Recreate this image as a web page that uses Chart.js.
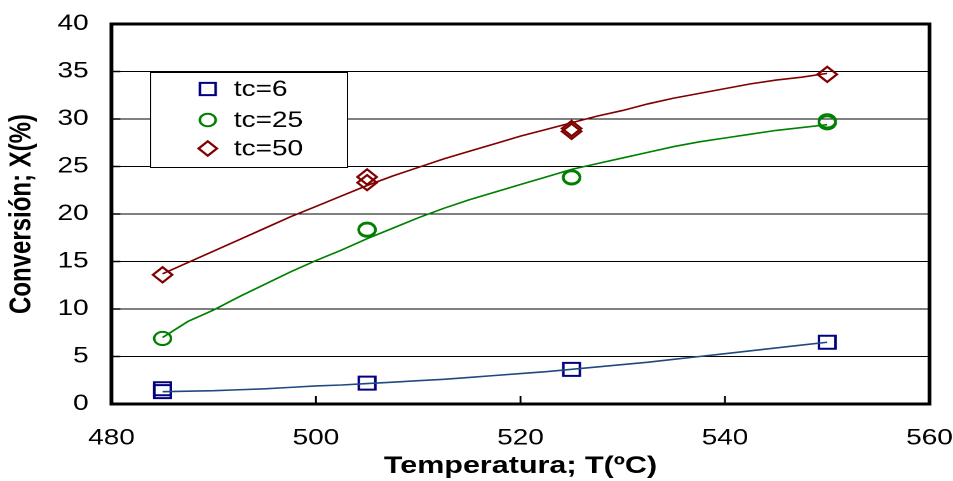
<!DOCTYPE html>
<html><head><meta charset="utf-8">
<script src="https://cdn.jsdelivr.net/npm/chart.js@4/dist/chart.umd.min.js"></script>
<style>
html,body{margin:0;padding:0;background:#fff;overflow:hidden;}
#wrap{width:750px;height:481px;transform:scaleX(1.270667);transform-origin:0 0;}
</style></head><body>
<div id="wrap"><canvas id="c" width="750" height="481"></canvas></div>
<script>
// ---- data ----
const curveTemps = [485,487.5,490,492.5,495,497.5,500,502.5,505,507.5,510,512.5,515,517.5,520,522.5,525,527.5,530,532.5,535,537.5,540,542.5,545,547.5,550];
const curveTc6  = [1.3,1.35,1.4,1.5,1.6,1.75,1.9,2.0,2.15,2.3,2.45,2.6,2.8,3.0,3.2,3.4,3.65,3.9,4.15,4.4,4.7,5.0,5.3,5.6,5.9,6.2,6.5];
const curveTc25 = [7.0,8.7,9.9,11.3,12.6,13.9,15.1,16.2,17.4,18.5,19.6,20.6,21.5,22.3,23.1,23.9,24.7,25.3,25.9,26.5,27.1,27.6,28.0,28.4,28.8,29.1,29.4];
const curveTc50 = [13.7,14.9,16.1,17.3,18.5,19.7,20.8,21.9,23.0,24.0,24.9,25.8,26.6,27.4,28.2,28.9,29.6,30.3,30.9,31.6,32.2,32.7,33.2,33.7,34.1,34.4,34.8];
const expTempsTc6  = [485,485,505,525,550];
const expTc6       = [1.6,1.3,2.2,3.65,6.5];
const expTempsTc25 = [485,505,505,525,525,550,550];
const expTc25      = [6.9,18.3,18.4,23.8,23.9,29.6,29.8];
const expTempsTc50 = [485,505,505,525,525,550];
const expTc50      = [13.6,23.9,23.3,29.0,28.7,34.7];
const seriesLabels = ['tc=6','tc=25','tc=50'];
const xTickValues = [480,500,520,540,560];
const yTickValues = [0,5,10,15,20,25,30,35,40];
const xTitle = 'Temperatura; T(ºC)';
const yTitle = 'Conversión; X(%)';

// ---- styles ----
const FONT = '"Liberation Sans", Arial, sans-serif';
const markerColors = ['#000080','#008000','#800000'];
const lineColors = ['#1F4A80','#008000','#800000'];
const markerStyles = [
  {pointStyle:'rect', radius:9.2},
  {pointStyle:'circle', radius:6.6},
  {pointStyle:'rectRot', radius:7.6}
];

const pts = (xs, ys) => xs.map((x,i)=>({x:x, y:ys[i]}));
const curves = [curveTc6, curveTc25, curveTc50];
const expX = [expTempsTc6, expTempsTc25, expTempsTc50];
const expY = [expTc6, expTc25, expTc50];

const datasets = [];
curves.forEach((c,i)=>datasets.push({
  label: seriesLabels[i]+' modelo',
  data: pts(curveTemps, c),
  showLine: true, borderColor: lineColors[i], borderWidth: 1.6,
  pointRadius: 0, fill: false, tension: 0
}));
expY.forEach((ys,i)=>datasets.push({
  label: seriesLabels[i],
  data: pts(expX[i], ys),
  showLine: false,
  pointStyle: markerStyles[i].pointStyle,
  pointRadius: markerStyles[i].radius,
  pointBorderColor: markerColors[i],
  pointBackgroundColor: 'rgba(0,0,0,0)',
  pointBorderWidth: 2
}));

const decor = {
  id: 'decor',
  afterDraw(chart){
    const ctx = chart.ctx, a = chart.chartArea;
    const xs = chart.scales.x, ys = chart.scales.y;
    ctx.save();
    // inner ticks
    ctx.strokeStyle = '#000'; ctx.lineWidth = 1.5;
    xTickValues.forEach(v=>{
      const px = xs.getPixelForValue(v);
      ctx.beginPath(); ctx.moveTo(px, a.bottom); ctx.lineTo(px, a.bottom-8); ctx.stroke();
    });
    yTickValues.forEach(v=>{
      const py = ys.getPixelForValue(v);
      ctx.beginPath(); ctx.moveTo(a.left, py); ctx.lineTo(a.left+7, py); ctx.stroke();
    });
    // frame
    ctx.lineWidth = 3;
    ctx.strokeRect(a.left, a.top, a.right-a.left, a.bottom-a.top);
    // legend box
    const bx = 118, by = 72, bw = 155, bh = 95;
    ctx.fillStyle = '#fff';
    ctx.fillRect(bx, by, bw, bh);
    ctx.lineWidth = 1; ctx.strokeStyle = '#000';
    ctx.strokeRect(bx+0.5, by+0.5, bw, bh);
    const rowsY = [89, 120, 148.5];
    ctx.font = '22px ' + FONT;
    ctx.textBaseline = 'middle';
    ctx.textAlign = 'left';
    seriesLabels.forEach((lab,i)=>{
      ctx.strokeStyle = markerColors[i];
      ctx.fillStyle = 'rgba(0,0,0,0)';
      ctx.lineWidth = 2;
      Chart.helpers.drawPoint(ctx, {pointStyle: markerStyles[i].pointStyle, radius: markerStyles[i].radius*0.95, rotation:0, borderWidth:2}, 163.5, rowsY[i]);
      ctx.fillStyle = '#000';
      ctx.fillText(lab, 184, rowsY[i]+1);
    });
    ctx.restore();
  }
};

const zeroPad = s => { s.paddingLeft = 0; s.paddingRight = 0; s.paddingTop = 0; s.paddingBottom = 0; };

new Chart(document.getElementById('c'), {
  type: 'scatter',
  data: { datasets },
  options: {
    responsive: false, animation: false, devicePixelRatio: 2,
    layout: { padding: { left: 0, right: 18.5, top: 24, bottom: 0 } },
    plugins: { legend: { display: false }, tooltip: { enabled: false } },
    scales: {
      x: {
        type: 'linear', min: 480, max: 560,
        afterBuildTicks: s => { s.ticks = xTickValues.map(v=>({value:v})); },
        afterFit: s => { s.height = 77; zeroPad(s); },
        grid: { display: false, drawTicks: false },
        border: { display: false },
        ticks: { padding: 21, color: '#000', font: { family: FONT, size: 22 } },
        title: { display: true, text: xTitle, color: '#000', font: { family: FONT, size: 24, weight: 'bold' }, padding: { top: 0, bottom: 0 } }
      },
      y: {
        type: 'linear', min: 0, max: 40,
        afterBuildTicks: s => { s.ticks = yTickValues.map(v=>({value:v})); },
        afterFit: s => { s.width = 87.7; zeroPad(s); },
        grid: { color: '#000', lineWidth: 1, drawTicks: false },
        border: { display: false },
        ticks: { padding: 18, color: '#000', font: { family: FONT, size: 22 } },
        title: { display: true, text: yTitle, color: '#000', font: { family: FONT, size: 24, weight: 'bold' }, padding: { top: 3, bottom: 0 } }
      }
    }
  },
  plugins: [decor]
});
</script>
</body></html>
